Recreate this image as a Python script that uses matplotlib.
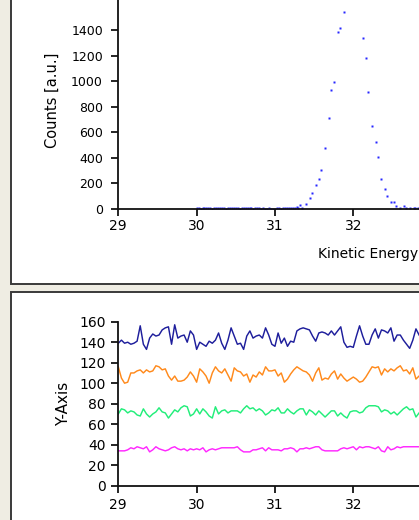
import numpy as np
import matplotlib
matplotlib.use("Agg")
import matplotlib.pyplot as plt
from matplotlib.patches import Rectangle

# ---- dados do espectro (painel de cima) ----
energia_base = [30.00, 30.025, 30.05, 30.075, 30.10, 30.125, 30.15, 30.175, 30.20, 30.225,
                30.25, 30.275, 30.30, 30.325, 30.35, 30.375, 30.40, 30.425, 30.45, 30.475,
                30.50, 30.525, 30.55, 30.575, 30.60, 30.625, 30.65, 30.675, 30.70, 30.725,
                30.75, 30.775, 30.80, 30.825, 30.85, 30.875, 30.90, 30.925, 30.95, 30.975,
                31.00, 31.025, 31.05, 31.075, 31.10, 31.125, 31.15, 31.175, 31.20, 31.225,
                31.25, 31.278, 31.30, 31.32, 31.34]
contagem_base = [4, 6, 3, 8, 5, 4, 7, 5, 3, 6,
                 5, 8, 4, 6, 5, 3, 7, 5, 6, 4,
                 5, 7, 3, 6, 5, 4, 8, 5, 6, 3,
                 7, 4, 5, 0, 6, 0, 0, 5, 0, 0,
                 0, 4, 6, 0, 5, 7, 4, 6, 8, 5,
                 9, 13, 10, 35, 10]
energia_pico = [31.400, 31.451, 31.473, 31.520, 31.566, 31.592, 31.643, 31.690, 31.712,
                31.758, 31.809, 31.834, 31.881,
                32.120, 32.166, 32.192, 32.239, 32.290, 32.312, 32.358, 32.409, 32.430,
                32.478, 32.524, 32.549, 32.596, 32.643, 32.673, 32.724, 32.771, 32.792,
                32.826]
contagem_pico = [41, 86, 127, 185, 232, 303, 479, 712, 931,
                 991, 1382, 1413, 1543,
                 1340, 1179, 915, 651, 522, 407, 232, 156, 99,
                 57, 57, 26, 10, 26, 10, 10, 10, 10,
                 10]

contagens_ticks = [0, 200, 400, 600, 800, 1000, 1200, 1400]
energia_ticks = [29, 30, 31, 32]

# ---- dados das quatro curvas (painel de baixo) ----
serie_azul = [139, 142, 139, 140, 138, 139, 141, 156, 138, 133,
              144, 148, 146, 147, 152, 154, 155, 138, 157, 144,
              146, 147, 140, 151, 147, 133, 140, 138, 136, 141,
              139, 142, 149, 139, 133, 142, 154, 146, 138, 139,
              133, 146, 151, 144, 146, 147, 144, 154, 147, 138,
              136, 149, 139, 144, 136, 141, 140, 151, 153, 154,
              153, 152, 146, 141, 149, 150, 149, 147, 151, 147,
              151, 155, 140, 135, 136, 135, 146, 156, 146, 138,
              138, 147, 153, 144, 152, 151, 149, 154, 141, 147,
              147, 142, 138, 134, 142, 153, 147]
serie_laranja = [116, 105, 100, 101, 110, 110, 112, 113, 110, 113,
                 111, 112, 117, 116, 113, 114, 107, 103, 107, 102,
                 102, 103, 106, 111, 107, 101, 114, 111, 107, 100,
                 110, 116, 112, 110, 114, 108, 102, 115, 112, 111,
                 107, 109, 101, 108, 106, 111, 108, 116, 112, 112,
                 113, 107, 110, 101, 104, 109, 113, 116, 114, 112,
                 111, 108, 102, 110, 115, 103, 105, 104, 109, 112,
                 104, 109, 105, 102, 104, 106, 104, 101, 102, 106,
                 111, 116, 115, 116, 108, 114, 111, 114, 112, 115,
                 117, 112, 113, 109, 115, 104, 107]
serie_verde = [70, 75, 74, 71, 73, 72, 69, 68, 75, 70,
               67, 70, 72, 76, 72, 71, 66, 70, 74, 72,
               76, 78, 77, 68, 70, 75, 70, 75, 72, 68,
               66, 77, 70, 73, 74, 71, 73, 73, 73, 71,
               75, 78, 75, 76, 73, 75, 73, 69, 71, 74,
               73, 76, 71, 71, 75, 72, 70, 73, 75, 75,
               69, 74, 72, 69, 73, 70, 67, 70, 73, 73,
               68, 71, 68, 66, 72, 73, 73, 71, 72, 76,
               78, 78, 78, 77, 72, 74, 73, 70, 72, 69,
               72, 75, 77, 74, 75, 67, 71]
serie_magenta = [34, 34, 34, 35, 37, 36, 38, 37, 36, 38,
                 33, 35, 38, 36, 35, 34, 35, 37, 38, 36,
                 35, 36, 34, 36, 35, 36, 35, 37, 33, 35,
                 36, 35, 36, 37, 37, 37, 37, 37, 38, 35,
                 33, 33, 33, 35, 35, 36, 37, 34, 37, 35,
                 35, 35, 34, 36, 36, 37, 36, 33, 36, 36,
                 37, 36, 37, 38, 38, 35, 34, 34, 34, 34,
                 34, 36, 37, 36, 37, 38, 35, 38, 37, 38,
                 38, 37, 36, 38, 34, 33, 38, 35, 36, 38,
                 37, 38, 38, 38, 38, 38, 38]
y_ticks = [0, 20, 40, 60, 80, 100, 120, 140, 160]

# eixo de energia das curvas: pontos igualmente espaçados de 29 eV ate a borda
energia_curvas = np.linspace(29.0, 32.84, len(serie_azul))

W, H = 419, 520
fig = plt.figure(figsize=(W / 100, H / 100), dpi=100)
fig.patch.set_facecolor("#efede3")

cor_borda = "#3a3a3a"


def fx(px):
    return px / W


def fy(py):
    # pixel contado de cima -> fração da figura
    return 1 - py / H


# molduras dos dois paineis (estilo janela do windows)
fig.patches.append(Rectangle((fx(11), fy(284)), 1.0, 1.0, transform=fig.transFigure,
                             facecolor="white", edgecolor=cor_borda, lw=1.4, zorder=-10))
fig.patches.append(Rectangle((fx(11), -0.5), 1.0, fy(292) + 0.5, transform=fig.transFigure,
                             facecolor="white", edgecolor=cor_borda, lw=1.4, zorder=-10))

px_por_ev = 78.33
x0 = 118.3

# ---- painel de cima ----
ax1 = fig.add_axes([fx(x0), fy(209), fx(5 * px_por_ev), 1700 * 0.12786 / H])
ax1.patch.set_visible(False)
ax1.plot(energia_base, contagem_base, "s", ms=1.7, color="#2626ff", mec="none", zorder=1)
ax1.plot(energia_pico, contagem_pico, "s", ms=2.0, color="#2626ff", mec="none", zorder=1)
ax1.set_xlim(29, 34)
ax1.set_ylim(0, 1700)
ax1.set_yticks(contagens_ticks)
ax1.set_xticks(energia_ticks)
ax1.set_ylabel("Counts [a.u.]", fontsize=10.5, labelpad=8)
ax1.set_xlabel("Kinetic Energy [eV]", fontsize=10, labelpad=10)
ax1.xaxis.label.set_horizontalalignment("left")
ax1.xaxis.label.set_x((318 - x0) / (5 * px_por_ev))
ax1.tick_params(axis="y", labelsize=9, length=5, width=1.2, pad=6)
ax1.tick_params(axis="x", labelsize=10, length=5, width=1.2, pad=2.5)

# ---- painel de baixo ----
ax2 = fig.add_axes([fx(x0), fy(485.7), fx(5 * px_por_ev), 164 / H])
ax2.patch.set_visible(False)
ax2.plot(energia_curvas, serie_azul, color="#1e1e9c", lw=1.05)
ax2.plot(energia_curvas, serie_laranja, color="#ff8a1c", lw=1.05)
ax2.plot(energia_curvas, serie_verde, color="#22ee7a", lw=1.05)
ax2.plot(energia_curvas, serie_magenta, color="#ff28ff", lw=1.05)
ax2.set_xlim(29, 34)
ax2.set_ylim(0, 160)
ax2.set_yticks(y_ticks)
ax2.set_xticks(energia_ticks)
ax2.set_ylabel("Y-Axis", fontsize=11, labelpad=6)
ax2.tick_params(axis="y", labelsize=10, length=5, width=1.2, pad=4)
ax2.tick_params(axis="x", labelsize=10, length=5, width=1.2, pad=4)

for ax in (ax1, ax2):
    for lado in ("top", "right"):
        ax.spines[lado].set_visible(False)
    for lado in ("left", "bottom"):
        ax.spines[lado].set_linewidth(1.3)
        ax.spines[lado].set_color("#111111")
        ax.spines[lado].set_zorder(3)

fig.savefig("out.png", dpi=100, facecolor=fig.get_facecolor())
